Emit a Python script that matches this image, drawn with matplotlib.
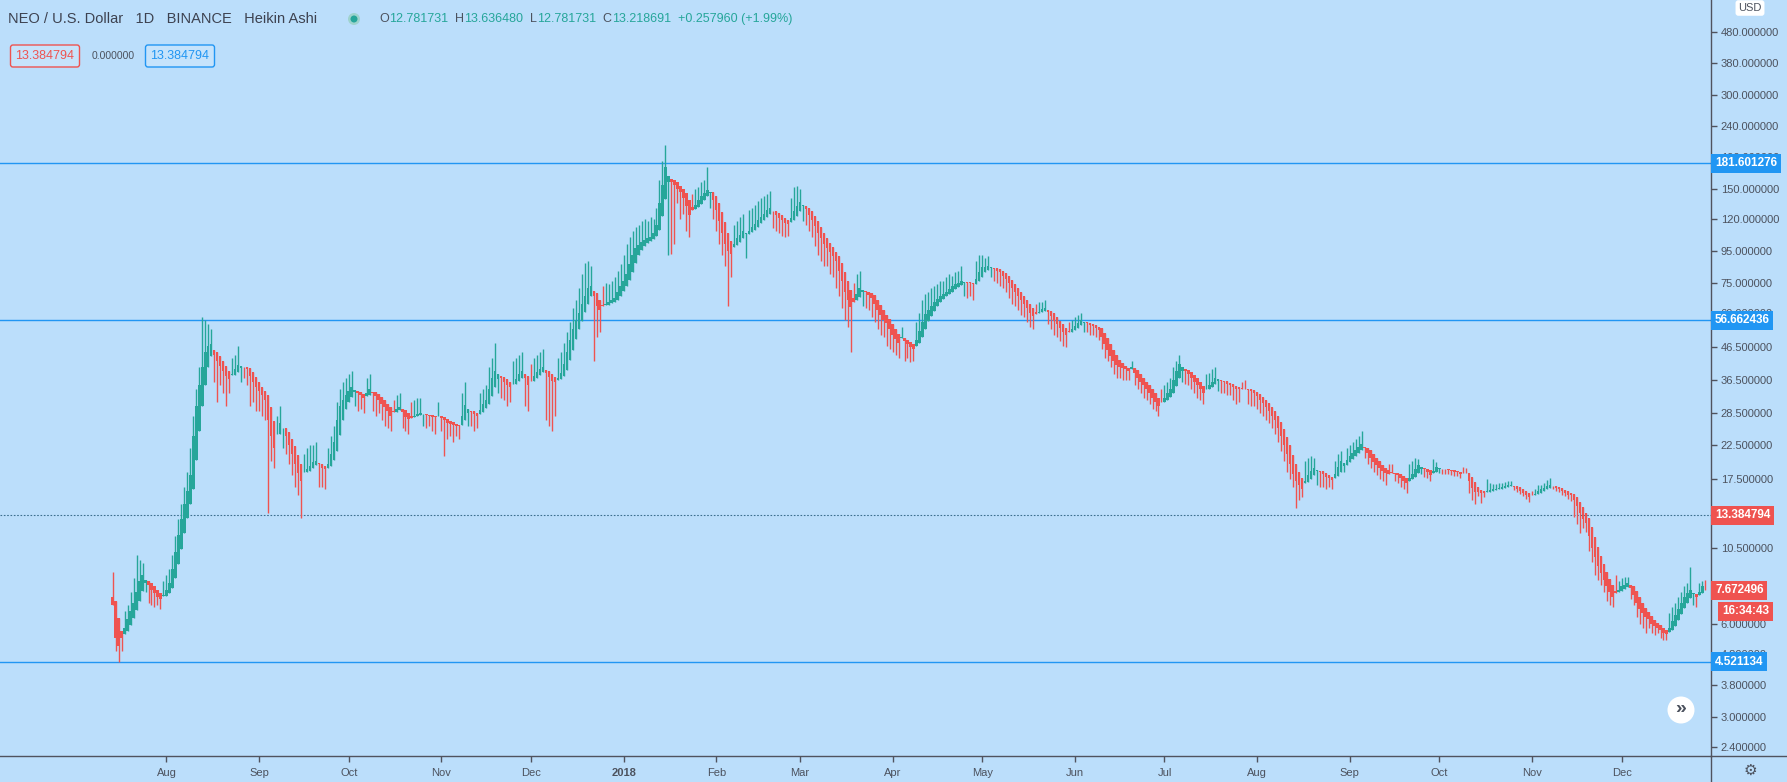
import matplotlib
matplotlib.use("Agg")
import numpy as np
import pandas as pd
import matplotlib.pyplot as plt
import matplotlib.dates as mdates
from matplotlib.transforms import blended_transform_factory
from matplotlib.patches import Ellipse
from matplotlib.lines import Line2D
from matplotlib.ticker import NullLocator

plt.rcParams['font.family'] = ['Liberation Sans', 'DejaVu Sans']

# daily Heikin Ashi closes (NEO/USD, from 2017-07-14)
start_day = "2017-07-14"
first_open = 7.3
close_2017 = [
    6.9, 5.4, 5.1, 5.4, 5.8, 6.2, 6.6, 7.0, 7.6, 8.2, 8.6, 8.3, 8.0, 7.7, 7.5, 7.3, 7.2, 7.4,
    7.7, 8.1, 9.0, 10.2, 11.6, 13.0, 14.5, 16.0, 18.0, 24.0, 30.0, 35.0, 40.0, 45.0, 47.0, 47.5,
    44.0, 42.0, 40.5, 39.0, 37.5, 36.6, 38.0, 39.5, 40.7, 40.5, 40.0, 39.5, 37.5, 36.0, 34.5,
    33.5, 32.5, 31.4, 27.0, 24.0, 22.0, 24.5, 26.5, 25.5, 24.0, 22.5, 21.0, 19.5, 18.3, 17.2,
    18.5, 18.8, 19.3, 19.8, 20.0, 19.5, 19.0, 18.8, 19.5, 21.0, 23.0, 27.0, 30.0, 31.5, 32.5,
    33.5, 34.6, 33.8, 33.0, 32.5, 32.0, 33.0, 34.0, 33.2, 32.4, 31.5, 30.6, 29.8, 29.0, 28.0,
    28.8, 29.4, 29.8, 28.7, 27.8, 27.2, 27.6, 28.0, 28.3, 28.5, 28.3, 28.1, 27.9, 27.8, 27.7, 28.0,
    27.6, 27.0, 26.6, 26.3, 26.1, 26.0, 25.9, 28.0, 30.2, 29.5, 28.8, 28.3, 28.0, 29.2, 30.5,
    31.5, 34.0, 37.0, 39.0, 38.0, 37.0, 36.0, 35.2, 34.6, 35.5, 36.8, 38.0, 39.0, 37.0, 35.0,
    36.2, 37.5, 38.6, 39.5, 40.0, 38.5, 37.3, 36.3, 35.8, 37.0, 38.5, 41.0, 45, 49, 53, 57,
    60, 64, 68, 72, 73, 68, 63, 61, 63, 64, 65, 66, 67, 70, 73,
]
close_2018 = [
    76, 80, 86, 92, 97, 99, 101, 103, 104, 105, 108, 115, 135, 155, 177, 165, 158, 155, 150,
    147, 140, 132, 124, 128, 133, 138, 142, 146, 149, 147, 138,
    128, 118, 108, 100, 95, 93, 100, 104, 107, 110, 108, 110, 113, 116, 119, 122, 125, 128,
    130, 127, 124, 121, 119, 117, 116, 121, 127, 132,
    136, 133, 129, 124, 119, 114, 108, 104, 100, 97, 94, 91, 88, 82, 76, 70, 66, 62.8, 65,
    69, 72, 71, 70, 68.5, 67, 64, 61, 59, 57, 55.7, 53,
    51, 49.5, 48, 50, 48.5, 47.5, 46.5, 46, 49, 52.5, 56, 59.6, 61, 63, 65, 66.5, 68, 69, 70,
    71.5, 73, 74, 75, 76, 75.5, 75, 74.5, 74, 77, 81,
    84, 84, 84.5, 84, 83, 82, 81, 79, 77, 74.5, 72, 70, 68, 66, 64, 62, 60, 58.5, 59.5, 60.5,
    61.5, 62, 60.5, 58.5, 56.5, 55, 53.5, 52, 51, 52, 53.2,
    54.5, 55.7, 56.7, 56, 55.4, 54.8, 54.2, 53.5, 52.8, 50, 47.5, 45.5, 43.5, 42, 40.8, 40.2,
    39.8, 39.4, 39, 40, 38.5, 37, 36, 35, 34, 33, 32, 31, 30, 31,
    32, 33, 34, 36.5, 39, 41, 40, 39, 38, 37, 36, 35, 34, 33, 34, 35, 36, 37, 36.6, 36.2, 35.8,
    35.4, 35, 34.6, 34.2, 34, 34, 34.1, 33.9, 33.7, 33,
    32.3, 31.5, 30.7, 29.9, 29, 28, 27, 25.5, 24, 22.5, 21, 19.5, 18.2, 17.2, 16.8, 16.3, 17.2,
    18, 18.6, 19, 18.7, 18.4, 18.1, 17.8, 17.6, 17.4, 18.2, 19.1, 20, 19.7, 20.2,
    20.7, 21.2, 21.7, 22.2, 22.7, 22, 21.2, 20.5, 19.9, 19.4, 19, 18.6, 18.3, 18.2, 18.3, 18.2,
    18, 17.6, 17.3, 17, 17.6, 18.2, 18.8, 19.4, 19.2, 18.8, 18.4, 18, 18.6, 19.2,
    19.0, 18.9, 18.8, 18.7, 18.6, 18.5, 18.4, 18.2, 18.3, 18.3, 17.2, 16.4, 15.9, 15.9, 15.8,
    15.8, 16.0, 16.1, 16.2, 16.3, 16.4, 16.5, 16.6, 16.7, 16.7, 16.5, 16.3, 16.0, 15.8, 15.5, 15.3,
    15.5, 15.7, 16.0, 16.2, 16.4, 16.6, 16.8, 16.6, 16.4, 16.2, 16.0, 15.8, 15.6, 15.5, 15.0,
    14.3, 13.6, 13.0, 12.6, 11.5, 10.5, 9.8, 9.2, 8.7, 8.3, 7.9, 7.6, 7.3, 7.5, 7.7,
    7.9, 8.0, 8.1, 7.8, 7.4, 7.0, 6.7, 6.5, 6.3, 6.2, 6.0, 5.9, 5.8, 5.7, 5.6, 5.55, 5.8, 6.1,
    6.4, 6.7, 7.0, 7.3, 7.5, 7.7, 7.5, 7.3, 7.6, 7.9, 7.67,
]
# tip of the wick for each day (above the body = high, below = low)
tip_2017 = [
    8.8, 4.9, 4.5, 4.9, 6.6, 6.9, 7.6, 8.4, 10.0, 9.6, 9.4, 7.6, 7.0, 6.9, 6.8, 6.9, 6.7, 8.2,
    8.6, 9.0, 10.0, 11.5, 13.0, 14.5, 16.5, 18.5, 22, 28, 34, 40, 58, 57, 55, 53, 36, 31, 35, 33,
    30, 33, 43, 44, 47, 36, 37, 35, 30, 31, 29,
    29, 28, 27, 13.6, 20, 19, 28, 30, 22, 21, 19.5, 18, 16.5, 15.5, 13.1, 21, 22, 22.5, 22.5, 23,
    16.5, 16.5, 16.3, 22, 24, 26, 31, 34, 36, 37,
    38, 39, 30, 29, 29.5, 28.5, 37, 38, 29, 28, 28.5, 27, 26, 25.5, 25, 31.5, 32.5, 33, 25.5, 25,
    24.5, 31, 31.5, 32, 32, 26, 25.5, 26, 25, 24.5, 31,
    25, 20.8, 23.5, 24, 23, 24, 23.5, 33, 36, 26, 26, 25, 25.5, 33, 34, 35, 40, 43, 48, 33,
    32, 31.5, 30, 31, 42, 43, 44, 45, 30, 29,
    41, 43, 44, 45, 46, 27, 26, 25, 28, 43, 45, 48, 52, 56, 62, 66, 72, 80, 87, 88,
    85, 42, 50, 52, 73, 75, 74, 76, 78, 82, 86,
]
tip_2018 = [
    92, 100, 105, 110, 113, 115, 118, 120, 118, 122, 120, 130, 160, 185, 208, 92, 93, 100, 135,
    120, 125, 110, 105, 145, 150, 152, 158, 160, 176, 130, 120,
    110, 100, 92, 85, 63, 78, 115, 118, 122, 125, 90, 128, 130, 133, 137, 140, 142, 145, 148,
    112, 110, 108, 106, 105, 106, 140, 152, 153,
    150, 118, 115, 110, 105, 98, 92, 88, 85, 85, 80, 78, 72, 68, 62, 57, 54, 44.7, 75, 80,
    82, 63, 62, 61, 58, 56, 53, 51, 50, 47, 46,
    45, 44, 43, 54, 42, 43, 41.5, 42, 56, 60, 66, 69, 70, 72, 73, 74, 76, 76, 78, 80,
    79, 81, 82, 85, 68, 67, 68, 66, 88, 92,
    92, 90, 91, 78, 76, 75, 73, 72, 70, 67, 64, 63, 61, 59, 58, 56, 54, 53, 64, 65,
    65, 66, 55, 53, 51, 50, 48.5, 47, 46.5, 56, 57,
    58, 59, 60, 52, 52, 51, 51, 50, 49, 46, 43, 42, 40, 38, 37, 37, 36.5, 36.5, 36.5, 42,
    35, 34, 33, 32, 31.5, 30.5, 29.5, 29, 28, 34,
    35, 36, 37, 40, 42, 44, 36, 35.5, 35, 34, 33, 32, 31.5, 30.5, 38, 38.5, 39.5, 40, 33.5, 33,
    33, 32.5, 32.5, 31.5, 30.5, 31, 36, 36.5, 30.5, 30, 30,
    29.5, 28.5, 28, 27, 26.5, 25.5, 24.5, 23, 21.5, 20, 18.5, 17.5, 16.5, 14.1, 15.0, 15.3, 20,
    20.5, 20.8, 20.5, 16.8, 16.5, 16.5, 16.2, 16.5, 16.2, 20, 21, 21.5, 18.5, 22,
    22.5, 23, 23.5, 24, 25, 20.5, 19.5, 19, 18.5, 18, 17.5, 17.2, 16.8, 19.5, 19.6, 17.3, 17,
    16.5, 16.2, 15.8, 19.5, 20, 20.5, 20.3, 18.2, 17.8, 17.6, 17.2, 20.3, 19.9,
    18.3, 18.2, 18.1, 18.2, 18, 17.9, 17.9, 17.7, 19.2, 19.0, 15.8, 15, 14.6, 15.4, 14.7, 15.3,
    17.5, 17.0, 16.9, 16.9, 17.0, 17.0, 17.1, 17.2, 17.2, 16.1, 15.9, 15.7, 15.4, 15.1, 14.8,
    16.0, 16.3, 16.7, 16.8, 17.0, 17.4, 17.6, 16.3, 16.0, 15.9, 15.6, 15.4, 15.1, 14.9, 13.2,
    12.5, 11.7, 12.2, 11.8, 10.3, 9.5, 8.6, 8.3, 8.0, 7.6, 7.1, 6.9, 6.8, 8.6, 8.2,
    8.4, 8.5, 8.5, 7.2, 6.9, 6.3, 6.0, 5.8, 5.6, 5.8, 5.6, 5.5, 5.6, 5.4, 5.3, 5.3, 6.5, 6.8,
    7.0, 7.3, 7.6, 7.9, 8.1, 9.1, 6.9, 6.8, 8.1, 8.2, 8.3,
]

levels = [181.601276, 56.662436, 4.521134]
cross_price = 13.384794
last_price = 7.672496
price_ticks = [2.4, 3.0, 3.8, 4.8, 6.0, 8.0, 10.5, 17.5, 22.5, 28.5, 36.5,
               46.5, 60, 75, 95, 120, 150, 190, 240, 300, 380, 480]

close = np.array(close_2017 + close_2018, dtype=float)
tip = np.array(tip_2017 + tip_2018, dtype=float)
assert len(close) == len(tip), (len(close), len(tip))
dates = pd.date_range(start_day, periods=len(close), freq="D")
x = mdates.date2num(dates)

# Heikin Ashi open
ha_open = np.empty_like(close)
ha_open[0] = first_open
for i in range(1, len(close)):
    ha_open[i] = (ha_open[i - 1] + close[i - 1]) / 2
high = np.maximum(np.maximum(ha_open, close), tip)
low = np.minimum(np.minimum(ha_open, close), tip)
up = close >= ha_open

BG = "#bbdefb"
UP = "#26a69a"
DN = "#ef5350"
BLUE = "#2196f3"
TXT = "#4c525e"
AXC = "#50535e"

W, H = 1787, 782
AX_R, AX_B = 1711, 756
fig = plt.figure(figsize=(W / 100, H / 100), dpi=100, facecolor=BG)
ax = fig.add_axes([0, 1 - AX_B / H, AX_R / W, AX_B / H], facecolor=BG)
ax.set_yscale("log")
ax.set_ylim(2.25, 608)
ax.set_xlim(x[0] - 37.7, x[0] + 534.9)

colors = np.where(up, UP, DN)
ax.vlines(x, low, high, colors=colors, lw=1.0, zorder=2)
ax.bar(x, np.abs(close - ha_open), bottom=np.minimum(close, ha_open), width=0.82,
       color=colors, lw=0, zorder=3)

for lv in levels:
    ax.axhline(lv, color=BLUE, lw=1, zorder=1)
ax.axhline(cross_price, color="#3c6f8f", lw=0.8, ls=(0, (1.5, 1.5)), zorder=1)

for s in ["top", "left"]:
    ax.spines[s].set_visible(False)
for s in ["right", "bottom"]:
    ax.spines[s].set_color(AXC)
    ax.spines[s].set_linewidth(1)

ax.yaxis.tick_right()
ax.set_yticks(price_ticks)
ax.set_yticklabels([f"{v:.6f}" for v in price_ticks])
ax.yaxis.set_minor_locator(NullLocator())
ax.tick_params(axis="y", length=4, width=1, color=AXC, labelcolor=TXT, labelsize=8, pad=3)

months = pd.date_range("2017-08-01", "2018-12-01", freq="MS")
ax.set_xticks(mdates.date2num(months))
ax.set_xticklabels([str(d.year) if d.month == 1 else d.strftime("%b") for d in months])
ax.tick_params(axis="x", length=4, width=1, color=AXC, labelcolor=TXT, labelsize=8, pad=5)
for lab, d in zip(ax.get_xticklabels(), months):
    if d.month == 1:
        lab.set_fontweight("bold")

# price tags on the axis
tr = blended_transform_factory(ax.transAxes, ax.transData)


def tag(val, text, fc, dx=4, dy=0, size=8.5):
    ax.annotate(text, xy=(1, val), xycoords=tr, xytext=(dx, dy), textcoords="offset pixels",
                ha="left", va="center", color="white", fontsize=size, fontweight="bold",
                bbox=dict(boxstyle="square,pad=0.3", fc=fc, ec="none"),
                zorder=10, annotation_clip=False)


for lv in levels:
    tag(lv, f"{lv:.6f}", BLUE)
tag(cross_price, f"{cross_price:.6f}", DN)
tag(last_price, f"{last_price:.6f}", DN)
tag(last_price, "16:34:43", DN, dx=11, dy=-21)

# frame lines of the price scale / time scale
fig.add_artist(Line2D([AX_R / W, 1], [1 - AX_B / H] * 2, color=AXC, lw=1))
fig.add_artist(Line2D([AX_R / W] * 2, [0, 1 - AX_B / H], color=AXC, lw=1))

# header
renderer = fig.canvas.get_renderer()


def row(x0, y0, parts, size):
    xx = x0
    for s, c in parts:
        t = fig.text(xx / W, 1 - y0 / H, s, color=c, fontsize=size, va="center", ha="left")
        xx += t.get_window_extent(renderer=renderer).width


row(8, 19, [("NEO / U.S. Dollar   1D   BINANCE   Heikin Ashi", "#3d4250")], 10.5)
fig.add_artist(Ellipse((354 / W, 1 - 19 / H), 12 / W, 12 / H, transform=fig.transFigure,
                       color="#9ed3cd", lw=0))
fig.add_artist(Ellipse((354 / W, 1 - 19 / H), 7 / W, 7 / H, transform=fig.transFigure,
                       color=UP, lw=0))
row(379, 19, [("O", TXT), ("12.781731", UP), ("  H", TXT), ("13.636480", UP),
              ("  L", TXT), ("12.781731", UP), ("  C", TXT), ("13.218691", UP),
              ("  +0.257960 (+1.99%)", UP)], 9)

fig.text(45 / W, 1 - 56 / H, "13.384794", color=DN, fontsize=9, ha="center", va="center",
         bbox=dict(boxstyle="round,pad=0.4,rounding_size=0.2", fc="#c6e3fb", ec=DN, lw=1))
fig.text(113 / W, 1 - 56 / H, "0.000000", color=TXT, fontsize=7.5, ha="center", va="center")
fig.text(180 / W, 1 - 56 / H, "13.384794", color=BLUE, fontsize=9, ha="center", va="center",
         bbox=dict(boxstyle="round,pad=0.4,rounding_size=0.2", fc="#c6e3fb", ec=BLUE, lw=1))

fig.text(1750 / W, 1 - 8 / H, "USD", color=TXT, fontsize=8, ha="center", va="center",
         bbox=dict(boxstyle="round,pad=0.25", fc="white", ec="none"))

# scroll button and settings icon
fig.add_artist(Ellipse((1681 / W, 1 - 710 / H), 27 / W, 27 / H, transform=fig.transFigure,
                       color="white", lw=0))
fig.text(1681 / W, 1 - 709 / H, "»", color=TXT, fontsize=14, ha="center", va="center",
         fontweight="bold")
fig.text(1750 / W, 1 - 770 / H, "⚙", color=TXT, fontsize=11, ha="center", va="center",
         family=["DejaVu Sans"])

fig.savefig("out.png", dpi=100, facecolor=BG)
